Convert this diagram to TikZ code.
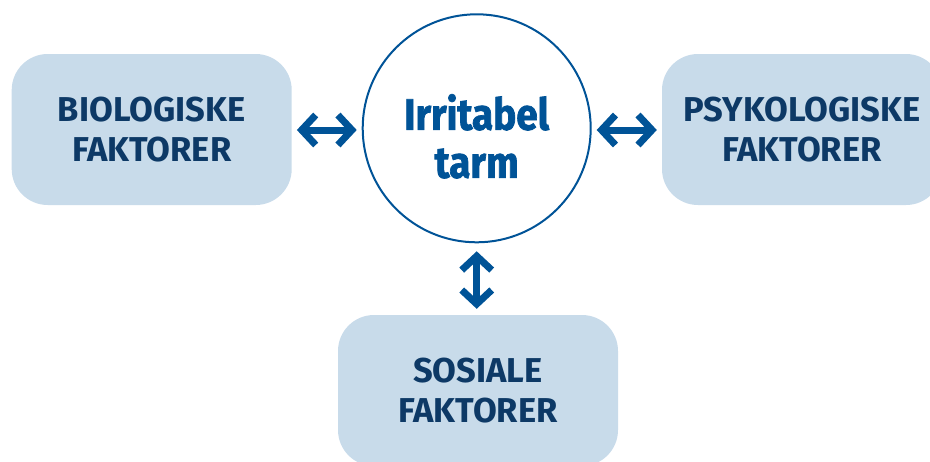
\documentclass[tikz,border=0pt]{standalone}
\usepackage{fontspec}
\setmainfont{Fira Sans}
\newfontfamily\circfont{Fira Sans}[BoldFeatures={FakeStretch=0.88,FakeBold=1.6}]
\usetikzlibrary{arrows.meta}
\definecolor{boxfill}{HTML}{C8DBEA}
\definecolor{boxtext}{HTML}{0D3966}
\definecolor{mainblue}{HTML}{005397}
\tikzset{
  factor/.style={fill=boxfill, rounded corners=36pt, minimum width=280pt, minimum height=151pt,
    inner sep=0pt, align=center, text=boxtext, font=\bfseries\fontsize{34.5}{40}\selectfont},
  center/.style={circle, draw=mainblue, line width=2pt, minimum size=228pt, inner sep=0pt},
  centertext/.style={align=center, text=mainblue, inner sep=0pt,
    font=\circfont\bfseries\fontsize{44}{48}\selectfont},
  dblarrow/.style={draw=mainblue, line width=7pt,
    {Straight Barb[length=14pt,width=30pt,line width=7pt]}-{Straight Barb[length=14pt,width=30pt,line width=7pt]}}
}
\begin{document}
\begin{tikzpicture}[x=1pt,y=-1pt]
\useasboundingbox (0,0) rectangle (930,461);
\clip (0,0) rectangle (930,461);
\node[factor] (bio) at (151.7,129.5) {BIOLOGISKE\\FAKTORER};
\node[factor] (psy) at (802,129.5) {PSYKOLOGISKE\\FAKTORER};
\node[factor] (sos) at (478,390.5) {SOSIALE\\FAKTORER};
\node[center] (ibs) at (476.7,128.3) {};
\node[centertext, yshift=-8pt] (ibslabel) at (ibs.center) {Irritabel\\tarm};
\draw[dblarrow, shorten <=5pt, shorten >=5pt] (bio.east |- 0,130) -- (ibs.west |- 0,130);
\draw[dblarrow, shorten <=5pt, shorten >=5pt] (ibs.east |- 0,130) -- (psy.west |- 0,130);
\draw[dblarrow, shorten <=8pt, shorten >=6pt] (ibs.south) -- (ibs.south |- sos.north);
\end{tikzpicture}
\end{document}
